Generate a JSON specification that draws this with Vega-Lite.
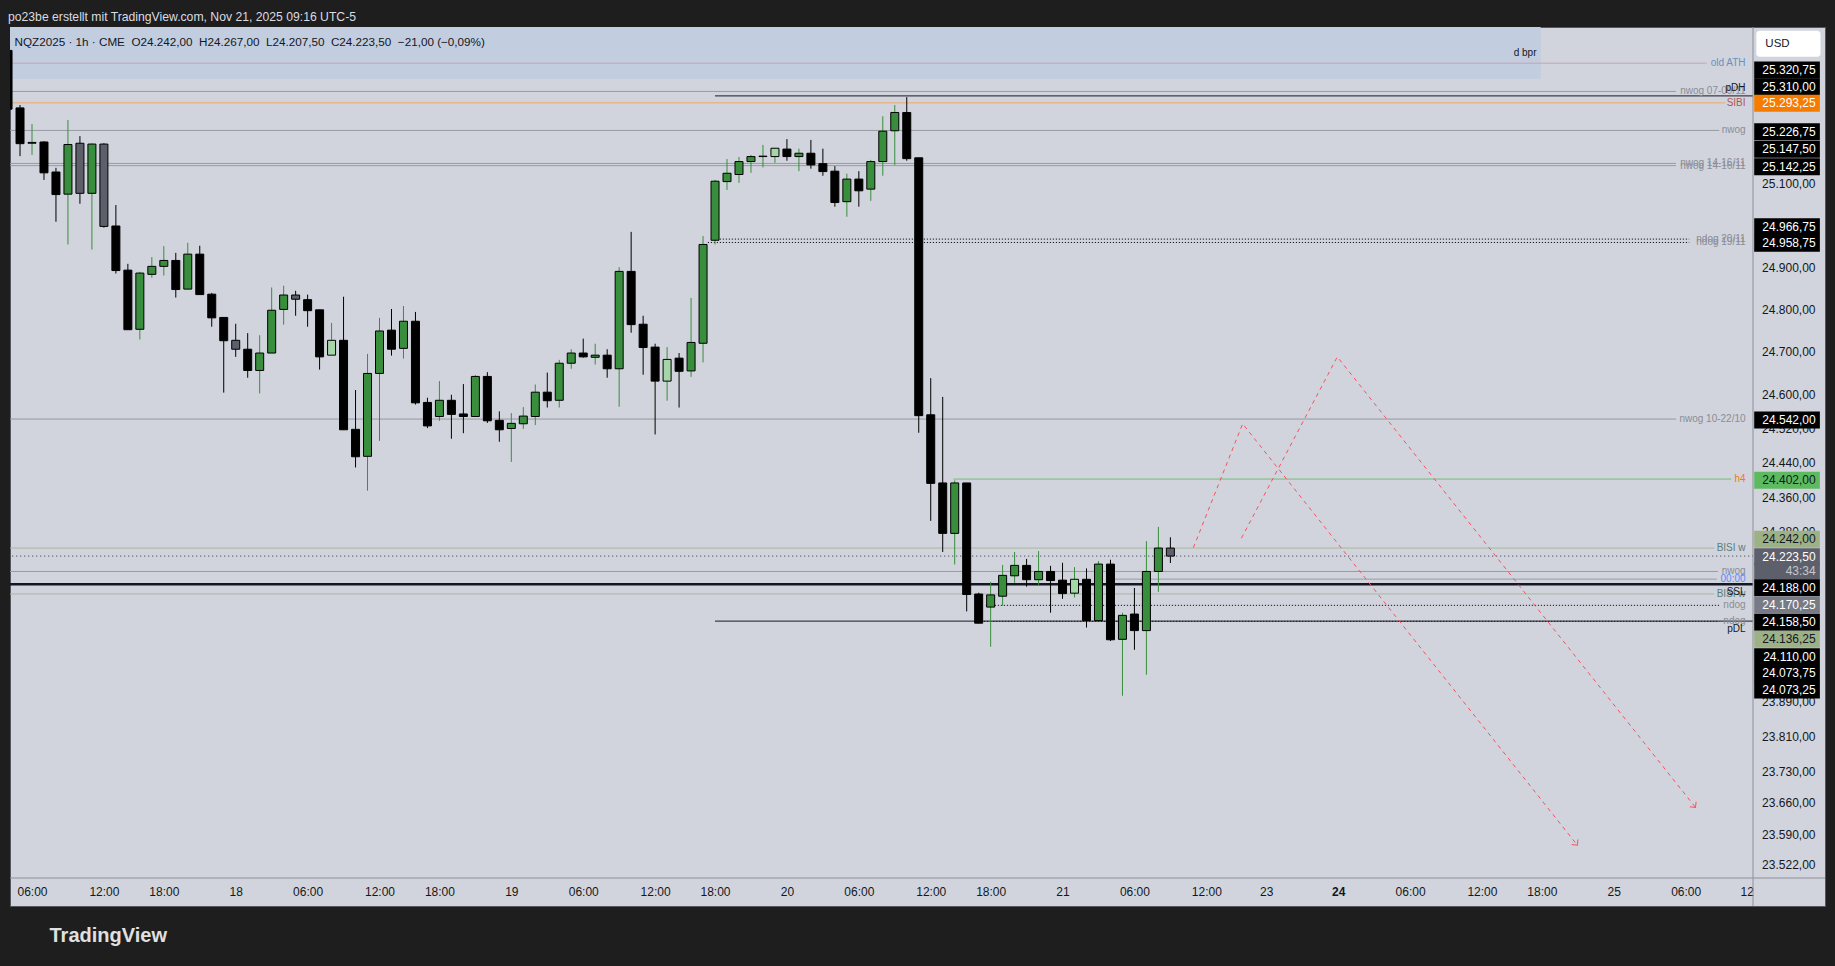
{
  "$schema": "https://vega.github.io/schema/vega-lite/v6.json",
  "width": 1815,
  "height": 879,
  "autosize": "none",
  "padding": {"left": 10, "top": 27, "right": 10, "bottom": 60},
  "background": "#1e1e1e",
  "config": {
    "view": {"fill": "#d1d4dc", "stroke": "#55575e", "strokeWidth": 1},
    "font": "Liberation Sans",
    "locale": {"number": {"decimal": ",", "thousands": ".", "grouping": [3], "currency": ["", " €"]}},
    "axis": {"grid": false, "domain": false, "ticks": false, "labelFont": "Liberation Sans", "labelColor": "#131722", "labelFontSize": 12, "labelOverlap": false, "labelFlush": false}
  },
  "title": {
    "text": "po23be erstellt mit TradingView.com, Nov 21, 2025 09:16 UTC-5",
    "subtitle": "\u2060\u00a0\u00a0NQZ2025 · 1h · CME\u00a0\u00a0O24.242,00\u00a0\u00a0H24.267,00\u00a0\u00a0L24.207,50\u00a0\u00a0C24.223,50\u00a0\u00a0−21,00 (−0,09%)",
    "anchor": "start",
    "frame": "group",
    "orient": "top",
    "offset": -22,
    "dx": -2,
    "font": "Liberation Sans",
    "fontSize": 12.2,
    "fontWeight": "normal",
    "color": "#dadce2",
    "subtitleFont": "Liberation Sans",
    "subtitleFontSize": 11.7,
    "subtitleColor": "#131722",
    "subtitlePadding": 14
  },
  "layer": [
    {
      "data": {"values": [{"name": "d bpr", "x0": -3, "x1": 125.9, "lo": 25351, "hi": 25700}]},
      "mark": {"type": "rect", "fill": "#c3cde0", "clip": true},
      "encoding": {
        "x": {"field": "x0", "type": "quantitative",
              "scale": {"domain": [-1.836, 143.62], "range": [0, 1743], "nice": false, "zero": false, "padding": 0},
              "axis": {"orient": "bottom", "offset": -28, "labelPadding": 8,
                       "values": [0, 6, 11, 17, 23, 29, 34, 40, 46, 52, 57, 63, 69, 75, 80, 86, 92, 98, 103, 109, 115, 121, 126, 132, 138, 143.1],
                       "labelExpr": "indexof([0,23,46,69,92,115,138], datum.value) >= 0 ? '06:00' : indexof([6,29,52,75,98,121], datum.value) >= 0 ? '12:00' : indexof([11,34,57,80,126], datum.value) >= 0 ? '18:00' : datum.value == 17 ? '18' : datum.value == 40 ? '19' : datum.value == 63 ? '20' : datum.value == 86 ? '21' : datum.value == 103 ? '23' : datum.value == 109 ? '24' : datum.value == 132 ? '25' : '12'",
                       "labelFontWeight": {"condition": {"test": "datum.value == 109", "value": "bold"}, "value": "normal"},
                       "title": "TradingView", "titleFont": "Liberation Sans", "titleFontSize": 20, "titleFontWeight": "bold", "titleColor": "#e0e0e0",
                       "titleAnchor": "start", "titleAlign": "left", "titleBaseline": "middle", "titleX": 39, "titleY": 57}},
        "x2": {"field": "x1"},
        "y": {"field": "lo", "type": "quantitative",
              "scale": {"type": "log", "domain": [23491.3, 25476.8], "range": [851, 0], "nice": false, "zero": false, "padding": 0},
              "axis": {"orient": "right", "offset": -72, "labelAlign": "right", "labelPadding": 62, "labelBaseline": "middle", "format": ",.2f",
                       "values": [25100, 24900, 24800, 24700, 24600, 24520, 24440, 24360, 24280, 23890, 23810, 23730, 23660, 23590, 23522],
                       "title": null}},
        "y2": {"field": "hi"}
      }
    },
    {
      "data": {"values": [
        {"label": "old ATH", "p": 25389, "from": -3, "to": 139.75, "k": "ath"},
        {"label": "nwog 07-09/11", "p": 25320.75, "from": -3, "to": 137.2, "k": "gray"},
        {"label": "pDH", "p": 25310, "from": 57, "to": 143.62, "k": "black"},
        {"label": "SIBI", "p": 25293.25, "from": -3, "to": 141.3, "k": "sibi"},
        {"label": "nwog", "p": 25226.75, "from": -3, "to": 140.8, "k": "gray"},
        {"label": "nwog 14-16/11", "p": 25147.5, "from": -3, "to": 137.2, "k": "gray"},
        {"label": "nwog 14-16/11", "p": 25142.25, "from": -3, "to": 137.2, "k": "gray"},
        {"label": "ndog 20/11", "p": 24966.75, "from": 57.4, "to": 138.3, "k": "dot"},
        {"label": "ndog 19/11", "p": 24958.75, "from": 56.4, "to": 138.3, "k": "dot"},
        {"label": "nwog 10-22/10", "p": 24542, "from": -3, "to": 137.2, "k": "gray"},
        {"label": "h4", "p": 24402, "from": 76.9, "to": 141.8, "k": "h4"},
        {"label": "BISI w", "p": 24242, "from": -3, "to": 140.4, "k": "bisi"},
        {"label": "", "p": 24223.5, "from": -3, "to": 143.62, "k": "last"},
        {"label": "nwog", "p": 24188, "from": -3, "to": 140.7, "k": "gray"},
        {"label": "00:00", "p": 24170.25, "from": 90.2, "to": 140.6, "k": "session"},
        {"label": "SSL", "p": 24158.5, "from": -3, "to": 143.62, "k": "thick"},
        {"label": "BISI w", "p": 24136.25, "from": -3, "to": 140.4, "k": "bisi"},
        {"label": "ndog", "p": 24110, "from": 79.6, "to": 140.8, "k": "dot"},
        {"label": "ndog", "p": 24073.25, "from": 79.2, "to": 140.8, "k": "dot"},
        {"label": "pDL", "p": 24073.75, "from": 57, "to": 143.62, "k": "black"}
      ]},
      "layer": [
        {
          "mark": {"type": "rule", "clip": true},
          "encoding": {
            "x": {"field": "from", "type": "quantitative"},
            "x2": {"field": "to"},
            "y": {"field": "p", "type": "quantitative"},
            "color": {"condition": [
              {"test": "datum.k=='ath'", "value": "#c9a3ae"},
              {"test": "datum.k=='gray'", "value": "#9598a1"},
              {"test": "datum.k=='sibi'", "value": "#f2a65e"},
              {"test": "datum.k=='h4'", "value": "#66bb6a"},
              {"test": "datum.k=='bisi'", "value": "#a9b69c"},
              {"test": "datum.k=='last'", "value": "#4a4d56"},
              {"test": "datum.k=='session'", "value": "#9598a8"}
            ], "value": "#131722"},
            "strokeDash": {"condition": [
              {"test": "datum.k=='dot'", "value": [1.2, 1.8]},
              {"test": "datum.k=='last'", "value": [1.2, 2.8]}
            ], "value": [1, 0]},
            "strokeWidth": {"condition": {"test": "datum.k=='thick'", "value": 2.5}, "value": 1}
          }
        },
        {
          "transform": [{"filter": "datum.label != '' && datum.label != 'pDH' && datum.label != 'SSL' && datum.label != 'pDL'"}],
          "mark": {"type": "text", "align": "right", "baseline": "middle", "fontSize": 10, "font": "Liberation Sans"},
          "encoding": {
            "x": {"datum": 143.0, "type": "quantitative"},
            "y": {"field": "p", "type": "quantitative"},
            "text": {"field": "label"},
            "color": {"condition": [
              {"test": "datum.k=='ath'", "value": "#6b8fc1"},
              {"test": "datum.k=='sibi'", "value": "#b0545a"},
              {"test": "datum.k=='h4'", "value": "#f57c00"},
              {"test": "datum.k=='bisi'", "value": "#5b7d7a"},
              {"test": "datum.k=='session'", "value": "#5b8ff9"}
            ], "value": "#8a8d96"}
          }
        },
        {
          "transform": [{"filter": "datum.label == 'pDH'"}],
          "mark": {"type": "text", "align": "right", "baseline": "middle", "fontSize": 10, "dy": -8, "color": "#131722"},
          "encoding": {
            "x": {"datum": 143.0, "type": "quantitative"},
            "y": {"field": "p", "type": "quantitative"},
            "text": {"field": "label"}
          }
        },
        {
          "transform": [{"filter": "datum.label == 'SSL' || datum.label == 'pDL'"}],
          "mark": {"type": "text", "align": "right", "baseline": "middle", "fontSize": 10, "dy": 8, "color": "#131722"},
          "encoding": {
            "x": {"datum": 143.0, "type": "quantitative"},
            "y": {"field": "p", "type": "quantitative"},
            "text": {"field": "label"}
          }
        }
      ]
    },
    {
      "data": {"values": [
        {"i": -2, "o": 25420, "h": 25440, "l": 25275, "c": 25278, "t": "down"},
        {"i": -1, "o": 25281, "h": 25288, "l": 25165, "c": 25195, "t": "down"},
        {"i": 0, "o": 25196, "h": 25242, "l": 25168, "c": 25198, "t": "up"},
        {"i": 1, "o": 25199, "h": 25201, "l": 25108, "c": 25125, "t": "down"},
        {"i": 2, "o": 25127, "h": 25137, "l": 25008, "c": 25073, "t": "down"},
        {"i": 3, "o": 25074, "h": 25252, "l": 24954, "c": 25193, "t": "up"},
        {"i": 4, "o": 25196, "h": 25213, "l": 25051, "c": 25076, "t": "down2"},
        {"i": 5, "o": 25076, "h": 25196, "l": 24942, "c": 25194, "t": "up"},
        {"i": 6, "o": 25194, "h": 25196, "l": 24994, "c": 24997, "t": "down2"},
        {"i": 7, "o": 24998, "h": 25048, "l": 24885, "c": 24892, "t": "down"},
        {"i": 8, "o": 24893, "h": 24908, "l": 24752, "c": 24752, "t": "down"},
        {"i": 9, "o": 24753, "h": 24889, "l": 24729, "c": 24886, "t": "up"},
        {"i": 10, "o": 24883, "h": 24924, "l": 24875, "c": 24902, "t": "up"},
        {"i": 11, "o": 24902, "h": 24950, "l": 24880, "c": 24916, "t": "up"},
        {"i": 12, "o": 24916, "h": 24934, "l": 24828, "c": 24847, "t": "down"},
        {"i": 13, "o": 24848, "h": 24958, "l": 24848, "c": 24931, "t": "up"},
        {"i": 14, "o": 24931, "h": 24951, "l": 24835, "c": 24835, "t": "down"},
        {"i": 15, "o": 24836, "h": 24839, "l": 24759, "c": 24780, "t": "down"},
        {"i": 16, "o": 24781, "h": 24781, "l": 24604, "c": 24726, "t": "down"},
        {"i": 17, "o": 24727, "h": 24766, "l": 24688, "c": 24706, "t": "down2"},
        {"i": 18, "o": 24706, "h": 24744, "l": 24639, "c": 24656, "t": "down"},
        {"i": 19, "o": 24656, "h": 24739, "l": 24602, "c": 24697, "t": "up"},
        {"i": 20, "o": 24697, "h": 24852, "l": 24697, "c": 24798, "t": "up"},
        {"i": 21, "o": 24800, "h": 24856, "l": 24764, "c": 24834, "t": "up"},
        {"i": 22, "o": 24834, "h": 24844, "l": 24785, "c": 24824, "t": "down2"},
        {"i": 23, "o": 24823, "h": 24835, "l": 24759, "c": 24797, "t": "down"},
        {"i": 24, "o": 24799, "h": 24799, "l": 24658, "c": 24688, "t": "down"},
        {"i": 25, "o": 24692, "h": 24768, "l": 24692, "c": 24727, "t": "up2"},
        {"i": 26, "o": 24727, "h": 24830, "l": 24517, "c": 24517, "t": "down"},
        {"i": 27, "o": 24518, "h": 24610, "l": 24429, "c": 24454, "t": "down"},
        {"i": 28, "o": 24455, "h": 24695, "l": 24375, "c": 24649, "t": "up"},
        {"i": 29, "o": 24649, "h": 24780, "l": 24491, "c": 24749, "t": "up"},
        {"i": 30, "o": 24751, "h": 24801, "l": 24691, "c": 24706, "t": "down"},
        {"i": 31, "o": 24708, "h": 24808, "l": 24684, "c": 24772, "t": "up"},
        {"i": 32, "o": 24772, "h": 24794, "l": 24576, "c": 24580, "t": "down"},
        {"i": 33, "o": 24581, "h": 24592, "l": 24521, "c": 24526, "t": "down"},
        {"i": 34, "o": 24548, "h": 24631, "l": 24538, "c": 24586, "t": "up"},
        {"i": 35, "o": 24586, "h": 24599, "l": 24496, "c": 24553, "t": "down"},
        {"i": 36, "o": 24554, "h": 24624, "l": 24509, "c": 24548, "t": "down"},
        {"i": 37, "o": 24548, "h": 24645, "l": 24548, "c": 24642, "t": "up"},
        {"i": 38, "o": 24642, "h": 24652, "l": 24533, "c": 24538, "t": "down"},
        {"i": 39, "o": 24539, "h": 24560, "l": 24489, "c": 24517, "t": "down"},
        {"i": 40, "o": 24520, "h": 24556, "l": 24442, "c": 24532, "t": "up"},
        {"i": 41, "o": 24531, "h": 24570, "l": 24519, "c": 24549, "t": "up"},
        {"i": 42, "o": 24548, "h": 24623, "l": 24528, "c": 24605, "t": "up"},
        {"i": 43, "o": 24605, "h": 24651, "l": 24569, "c": 24585, "t": "down"},
        {"i": 44, "o": 24586, "h": 24681, "l": 24569, "c": 24673, "t": "up"},
        {"i": 45, "o": 24673, "h": 24706, "l": 24660, "c": 24697, "t": "up"},
        {"i": 46, "o": 24697, "h": 24731, "l": 24686, "c": 24688, "t": "down"},
        {"i": 47, "o": 24687, "h": 24719, "l": 24670, "c": 24692, "t": "up"},
        {"i": 48, "o": 24692, "h": 24706, "l": 24639, "c": 24660, "t": "down"},
        {"i": 49, "o": 24660, "h": 24900, "l": 24571, "c": 24890, "t": "up"},
        {"i": 50, "o": 24890, "h": 24984, "l": 24745, "c": 24764, "t": "down"},
        {"i": 51, "o": 24765, "h": 24785, "l": 24646, "c": 24710, "t": "down"},
        {"i": 52, "o": 24711, "h": 24719, "l": 24506, "c": 24631, "t": "down"},
        {"i": 53, "o": 24631, "h": 24711, "l": 24585, "c": 24682, "t": "up2"},
        {"i": 54, "o": 24685, "h": 24697, "l": 24569, "c": 24654, "t": "down"},
        {"i": 55, "o": 24655, "h": 24827, "l": 24641, "c": 24722, "t": "up"},
        {"i": 56, "o": 24720, "h": 24974, "l": 24675, "c": 24954, "t": "up"},
        {"i": 57, "o": 24964, "h": 25108, "l": 24954, "c": 25105, "t": "up"},
        {"i": 58, "o": 25104, "h": 25158, "l": 25084, "c": 25124, "t": "up"},
        {"i": 59, "o": 25121, "h": 25163, "l": 25101, "c": 25152, "t": "up"},
        {"i": 60, "o": 25152, "h": 25168, "l": 25125, "c": 25164, "t": "up"},
        {"i": 61, "o": 25164, "h": 25192, "l": 25138, "c": 25165, "t": "up"},
        {"i": 62, "o": 25164, "h": 25184, "l": 25149, "c": 25184, "t": "up2"},
        {"i": 63, "o": 25182, "h": 25206, "l": 25154, "c": 25164, "t": "down"},
        {"i": 64, "o": 25164, "h": 25183, "l": 25129, "c": 25172, "t": "up"},
        {"i": 65, "o": 25172, "h": 25204, "l": 25135, "c": 25144, "t": "down"},
        {"i": 66, "o": 25147, "h": 25183, "l": 25118, "c": 25128, "t": "down"},
        {"i": 67, "o": 25129, "h": 25141, "l": 25044, "c": 25054, "t": "down"},
        {"i": 68, "o": 25056, "h": 25123, "l": 25020, "c": 25110, "t": "up"},
        {"i": 69, "o": 25110, "h": 25129, "l": 25044, "c": 25082, "t": "down"},
        {"i": 70, "o": 25086, "h": 25156, "l": 25058, "c": 25152, "t": "up"},
        {"i": 71, "o": 25152, "h": 25261, "l": 25118, "c": 25225, "t": "up"},
        {"i": 72, "o": 25226, "h": 25288, "l": 25144, "c": 25270, "t": "up"},
        {"i": 73, "o": 25270, "h": 25307, "l": 25154, "c": 25159, "t": "down"},
        {"i": 74, "o": 25161, "h": 25161, "l": 24510, "c": 24550, "t": "down"},
        {"i": 75, "o": 24552, "h": 24638, "l": 24305, "c": 24392, "t": "down"},
        {"i": 76, "o": 24393, "h": 24594, "l": 24233, "c": 24276, "t": "down"},
        {"i": 77, "o": 24276, "h": 24399, "l": 24204, "c": 24393, "t": "up"},
        {"i": 78, "o": 24393, "h": 24393, "l": 24096, "c": 24135, "t": "down"},
        {"i": 79, "o": 24136, "h": 24139, "l": 24069, "c": 24069, "t": "down"},
        {"i": 80, "o": 24106, "h": 24164, "l": 24015, "c": 24134, "t": "up"},
        {"i": 81, "o": 24131, "h": 24203, "l": 24109, "c": 24179, "t": "up"},
        {"i": 82, "o": 24178, "h": 24233, "l": 24162, "c": 24202, "t": "up"},
        {"i": 83, "o": 24202, "h": 24217, "l": 24153, "c": 24169, "t": "down"},
        {"i": 84, "o": 24169, "h": 24235, "l": 24157, "c": 24188, "t": "up"},
        {"i": 85, "o": 24188, "h": 24201, "l": 24093, "c": 24167, "t": "down"},
        {"i": 86, "o": 24168, "h": 24208, "l": 24125, "c": 24137, "t": "down"},
        {"i": 87, "o": 24138, "h": 24198, "l": 24128, "c": 24170, "t": "up2"},
        {"i": 88, "o": 24170, "h": 24195, "l": 24059, "c": 24075, "t": "down"},
        {"i": 89, "o": 24075, "h": 24212, "l": 24075, "c": 24205, "t": "up"},
        {"i": 90, "o": 24205, "h": 24215, "l": 24028, "c": 24031, "t": "down"},
        {"i": 91, "o": 24032, "h": 24093, "l": 23903, "c": 24087, "t": "up"},
        {"i": 92, "o": 24090, "h": 24150, "l": 24008, "c": 24052, "t": "down"},
        {"i": 93, "o": 24052, "h": 24258, "l": 23951, "c": 24188, "t": "up"},
        {"i": 94, "o": 24188, "h": 24291, "l": 24141, "c": 24242, "t": "up"},
        {"i": 95, "o": 24242, "h": 24267, "l": 24207.5, "c": 24223.5, "t": "down2"}
      ]},
      "layer": [
        {
          "mark": {"type": "rule", "clip": true, "strokeWidth": 1},
          "encoding": {
            "x": {"field": "i", "type": "quantitative"},
            "y": {"field": "l", "type": "quantitative"},
            "y2": {"field": "h"},
            "color": {"condition": {"test": "datum.t=='up' || datum.t=='up2'", "value": "#388e3c"}, "value": "#000000"}
          }
        },
        {
          "mark": {"type": "bar", "clip": true, "size": 8, "stroke": "#000000", "strokeWidth": 1},
          "encoding": {
            "x": {"field": "i", "type": "quantitative"},
            "y": {"field": "o", "type": "quantitative"},
            "y2": {"field": "c"},
            "color": {"condition": [
              {"test": "datum.t=='up'", "value": "#388e3c"},
              {"test": "datum.t=='up2'", "value": "#a5d6a7"},
              {"test": "datum.t=='down2'", "value": "#5d606b"}
            ], "value": "#000000"}
          }
        }
      ]
    },
    {
      "data": {"values": [
        {"g": "a", "o": 0, "i": 96.92, "p": 24243},
        {"g": "a", "o": 1, "i": 101.03, "p": 24531},
        {"g": "a", "o": 2, "i": 128.96, "p": 23565},
        {"g": "b", "o": 0, "i": 100.93, "p": 24265},
        {"g": "b", "o": 1, "i": 108.93, "p": 24688},
        {"g": "b", "o": 2, "i": 138.82, "p": 23650}
      ]},
      "layer": [
        {
          "mark": {"type": "line", "clip": true, "color": "#f7525f", "strokeWidth": 1, "strokeDash": [4, 4]},
          "encoding": {
            "x": {"field": "i", "type": "quantitative"},
            "y": {"field": "p", "type": "quantitative"},
            "detail": {"field": "g"},
            "order": {"field": "o"}
          }
        },
        {
          "transform": [{"filter": "datum.o == 2"}],
          "mark": {"type": "point", "shape": "M -1 1 L 0 0 L 1 1", "filled": false, "stroke": "#f7525f", "strokeWidth": 1, "size": 64, "angle": 141.5, "opacity": 1},
          "encoding": {
            "x": {"field": "i", "type": "quantitative"},
            "y": {"field": "p", "type": "quantitative"}
          }
        }
      ]
    },
    {
      "data": {"values": [{"t": "d bpr", "at": 25414, "x": 124.6}]},
      "mark": {"type": "text", "fontSize": 10, "color": "#131722", "align": "center", "baseline": "middle"},
      "encoding": {
        "x": {"field": "x", "type": "quantitative"},
        "y": {"field": "at", "type": "quantitative"},
        "text": {"field": "t"}
      }
    },
    {
      "data": {"values": [{}]},
      "layer": [
        {"mark": {"type": "rule", "color": "#8d9099", "strokeWidth": 1}, "encoding": {"x": {"datum": 143.62, "type": "quantitative"}}},
        {"mark": {"type": "rule", "color": "#8d9099", "strokeWidth": 1}, "encoding": {"y": {"datum": 23491.3, "type": "quantitative"}}}
      ]
    },
    {
      "data": {"values": [
        {"b": "25.320,75", "at": 25372.6, "k": "black"},
        {"b": "25.310,00", "at": 25332.3, "k": "black"},
        {"b": "25.293,25", "at": 25292.2, "k": "orange"},
        {"b": "25.226,75", "at": 25223.8, "k": "black"},
        {"b": "25.147,50", "at": 25181.5, "k": "black"},
        {"b": "25.142,25", "at": 25139.8, "k": "black"},
        {"b": "24.966,75", "at": 24996.4, "k": "black"},
        {"b": "24.958,75", "at": 24956.8, "k": "black"},
        {"b": "24.542,00", "at": 24539.8, "k": "black"},
        {"b": "24.402,00", "at": 24399.2, "k": "green"},
        {"b": "24.242,00", "at": 24262.4, "k": "olive"},
        {"b": "24.223,50", "at": 24221.8, "k": "last"},
        {"b": "43:34", "at": 24189.1, "k": "timer"},
        {"b": "24.188,00", "at": 24150.3, "k": "black"},
        {"b": "24.170,25", "at": 24110.8, "k": "gray"},
        {"b": "24.158,50", "at": 24071.4, "k": "black"},
        {"b": "24.136,25", "at": 24032.1, "k": "olive"},
        {"b": "24.110,00", "at": 23992.3, "k": "black"},
        {"b": "24.073,75", "at": 23954.1, "k": "black"},
        {"b": "24.073,25", "at": 23916.1, "k": "black"}
      ]},
      "layer": [
        {
          "mark": {"type": "bar", "orient": "horizontal", "size": 17},
          "encoding": {
            "x": {"datum": 143.72, "type": "quantitative"},
            "x2": {"datum": 149.2},
            "y": {"field": "at", "type": "quantitative"},
            "color": {"condition": [
              {"test": "datum.k=='orange'", "value": "#f57c00"},
              {"test": "datum.k=='green'", "value": "#5dba61"},
              {"test": "datum.k=='olive'", "value": "#9db187"},
              {"test": "datum.k=='last' || datum.k=='timer'", "value": "#5d606b"},
              {"test": "datum.k=='gray'", "value": "#787b86"}
            ], "value": "#000000"}
          }
        },
        {
          "mark": {"type": "text", "align": "right", "baseline": "middle", "fontSize": 12, "font": "Liberation Sans"},
          "encoding": {
            "x": {"datum": 148.85, "type": "quantitative"},
            "y": {"field": "at", "type": "quantitative"},
            "text": {"field": "b"},
            "fontWeight": {"condition": {"test": "datum.k=='timer'", "value": "normal"}, "value": "bold"},
            "color": {"condition": [
              {"test": "datum.k=='green' || datum.k=='olive'", "value": "#131722"},
              {"test": "datum.k=='timer'", "value": "#c5c8d0"}
            ], "value": "#ffffff"}
          }
        }
      ]
    },
    {
      "data": {"values": [{"t": "USD", "at": 25436.4}]},
      "layer": [
        {
          "mark": {"type": "bar", "orient": "horizontal", "size": 26, "color": "#ffffff", "cornerRadius": 3},
          "encoding": {
            "x": {"datum": 143.9, "type": "quantitative"},
            "x2": {"datum": 149.25},
            "y": {"field": "at", "type": "quantitative"}
          }
        },
        {
          "mark": {"type": "text", "align": "left", "baseline": "middle", "fontSize": 11.5, "color": "#131722"},
          "encoding": {
            "x": {"datum": 144.65, "type": "quantitative"},
            "y": {"field": "at", "type": "quantitative"},
            "text": {"field": "t"}
          }
        }
      ]
    }
  ]
}
